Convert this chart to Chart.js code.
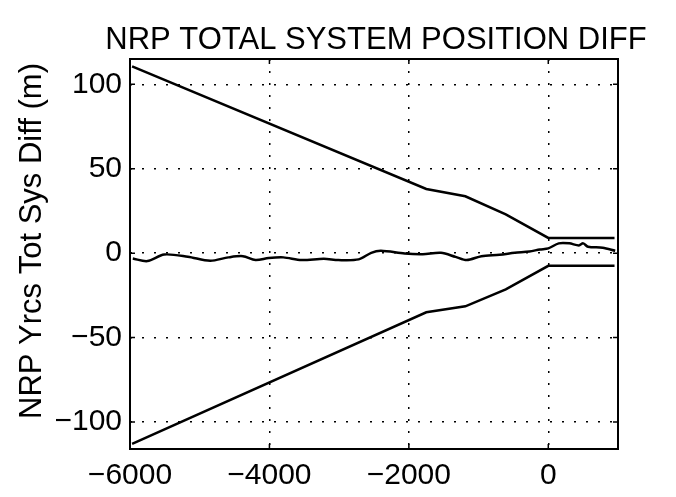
<!DOCTYPE html>
<html lang="en">
<head>
    <meta charset="UTF-8">
    <script src="https://cdn.jsdelivr.net/npm/chart.js@4.4.1/dist/chart.umd.min.js"></script>
    <title>NRP total system position diff</title>
    <style>
        body { margin: 0; background: #fff; }
        #wrap { width: 676px; height: 497px; }
    </style>
</head>
<body>
    <div id="wrap"><canvas id="myChart" width="676" height="497"></canvas></div>

    <script>
        // data
        const titolo = 'NRP TOTAL SYSTEM POSITION DIFF'
        const yTitolo = 'NRP Yrcs Tot Sys Diff (m)'

        const xTicks = [-6000, -4000, -2000, 0]
        const yTicks = [-100, -50, 0, 50, 100]

        const limitX = [-5970, -1750, -1190, -610, 0, 950]
        const upperY = [110.6, 38, 33.7, 23, 9, 9]
        const lowerX = [-5970, -1750, -1190, -610, 0, 950]
        const lowerY = [-113, -35, -31.5, -21.5, -7.5, -7.5]

        const diffX = [-5960, -5750, -5510, -5170, -4850, -4590, -4380, -4200, -4010, -3800, -3540, -3220,
                       -3010, -2720, -2540, -2400, -2060, -1800, -1540, -1330, -1170, -960, -700, -480,
                       -270, -120, 0, 150, 300, 440, 500, 570, 780, 960]
        const diffY = [-3.2, -4.7, -0.8, -2.1, -4.5, -2.5, -1.8, -4.1, -2.9, -2.5, -4.1, -3.3,
                       -4.1, -3.7, 0.2, 1.4, -0.2, -0.6, 0.2, -2.2, -4.1, -1.8, -1.0, 0.2,
                       1.0, 2.2, 2.8, 5.8, 5.8, 4.6, 5.8, 3.8, 3.2, 1.4]

        const xMin = -6000, xMax = 1000
        const yMin = -116, yMax = 115

        function punti(xs, ys) {
            return xs.map((x, i) => ({ x: x, y: ys[i] }))
        }

        const FONT = '"Liberation Sans", Arial, Helvetica, sans-serif'

        // frame, inward ticks and the two titles
        const cornice = {
            id: 'cornice',
            afterDraw(chart) {
                const ctx = chart.ctx
                const a = chart.chartArea
                ctx.save()
                ctx.strokeStyle = '#000'
                ctx.lineWidth = 2
                ctx.strokeRect(a.left, a.top, a.right - a.left, a.bottom - a.top)
                ctx.lineWidth = 1.5
                const sx = chart.scales.x, sy = chart.scales.y
                sx.ticks.forEach(t => {
                    const p = sx.getPixelForValue(t.value)
                    ctx.beginPath()
                    ctx.moveTo(p, a.bottom); ctx.lineTo(p, a.bottom - 5)
                    ctx.moveTo(p, a.top); ctx.lineTo(p, a.top + 5)
                    ctx.stroke()
                })
                sy.ticks.forEach(t => {
                    const p = sy.getPixelForValue(t.value)
                    ctx.beginPath()
                    ctx.moveTo(a.left, p); ctx.lineTo(a.left + 5, p)
                    ctx.moveTo(a.right, p); ctx.lineTo(a.right - 5, p)
                    ctx.stroke()
                })
                ctx.fillStyle = '#000'
                ctx.font = '31px ' + FONT
                ctx.textAlign = 'center'
                ctx.textBaseline = 'alphabetic'
                ctx.fillText(titolo, 376, 49)
                ctx.translate(41, 241)
                ctx.rotate(-Math.PI / 2)
                ctx.font = '31px ' + FONT
                ctx.fillText(yTitolo, 0, 0)
                ctx.restore()
            }
        }

        const linea = { borderColor: '#000', borderWidth: 2.5, pointRadius: 0, fill: false, tension: 0 }

        const ctx = document.getElementById('myChart').getContext('2d')
        const myChart = new Chart(ctx, {
            type: 'line',
            data: {
                datasets: [
                    Object.assign({ label: 'upper', data: punti(limitX, upperY) }, linea),
                    Object.assign({ label: 'lower', data: punti(lowerX, lowerY) }, linea),
                    Object.assign({ label: 'diff', data: punti(diffX, diffY) }, linea, { tension: 0.3 })
                ]
            },
            options: {
                responsive: false,
                animation: false,
                layout: { padding: { top: 59, right: 58, left: 0, bottom: 0 } },
                plugins: { legend: { display: false }, tooltip: { enabled: false } },
                scales: {
                    x: {
                        type: 'linear',
                        min: xMin, max: xMax,
                        afterFit(s) { s.height = 48 },
                        afterBuildTicks(s) { s.ticks = xTicks.map(v => ({ value: v })) },
                        border: { display: false, dash: [2, 10] },
                        grid: { color: '#000', lineWidth: 1.5, drawTicks: false },
                        ticks: { color: '#000', padding: 9, autoSkip: false,
                                 font: { family: FONT, size: 30 }, maxRotation: 0,
                                 callback: v => String(v).replace('-', '\u2212') }
                    },
                    y: {
                        type: 'linear',
                        min: yMin, max: yMax,
                        afterFit(s) { s.width = 130 },
                        afterBuildTicks(s) { s.ticks = yTicks.map(v => ({ value: v })) },
                        border: { display: false, dash: [2, 10] },
                        grid: { color: '#000', lineWidth: 1.5, drawTicks: false },
                        ticks: { color: '#000', padding: 8, autoSkip: false,
                                 font: { family: FONT, size: 30 },
                                 callback: v => String(v).replace('-', '\u2212') }
                    }
                }
            },
            plugins: [cornice]
        })
    </script>
</body>
</html>
